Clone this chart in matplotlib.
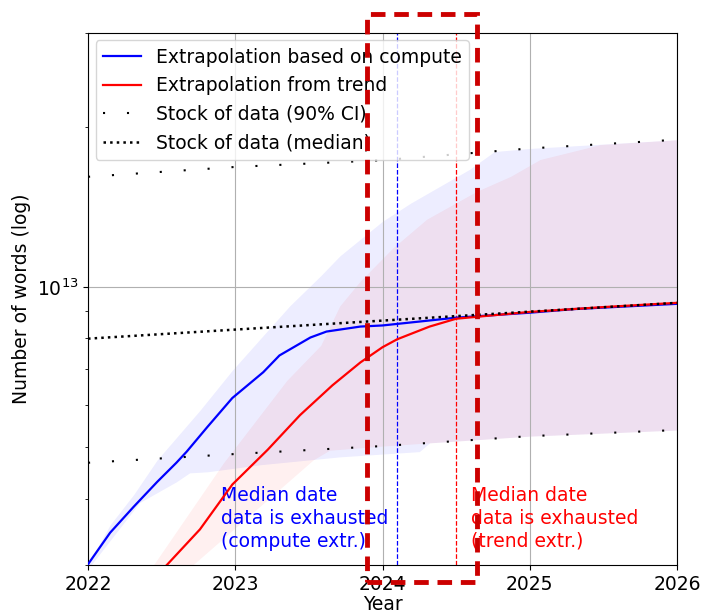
import matplotlib.pyplot as plt
import matplotlib.ticker as mticker
from matplotlib.patches import Rectangle
import numpy as np

# values in units of 1e12 words
years_stock = [2022.0, 2023.0, 2024.0, 2025.0, 2026.0]
stock_median = [7.99, 8.31, 8.64, 8.98, 9.33]
stock_hi = [16.1, 16.8, 17.3, 18.2, 18.9]
stock_lo = [4.67, 4.85, 5.02, 5.24, 5.38]

years_compute = [2022.00, 2022.15, 2022.31, 2022.47, 2022.60, 2022.67, 2022.81,
                 2022.98, 2023.19, 2023.30, 2023.51, 2023.62, 2023.85, 2024.00,
                 2024.50, 2025.00, 2025.30, 2026.00]
compute_median = [3.01, 3.45, 3.86, 4.30, 4.67, 4.90, 5.45,
                  6.18, 6.91, 7.43, 8.03, 8.24, 8.42, 8.46,
                  8.75, 8.94, 9.08, 9.29]

years_compute_hi = [2022.00, 2022.15, 2022.31, 2022.47, 2022.76, 2022.98, 2023.19,
                    2023.37, 2023.58, 2023.71, 2023.85, 2024.00, 2024.19, 2024.39,
                    2024.59, 2024.76, 2025.00, 2025.50, 2026.00]
compute_hi = [3.01, 3.57, 4.07, 4.73, 5.86, 6.97, 8.10,
              9.21, 10.49, 11.43, 12.29, 13.28, 14.36, 15.45,
              16.62, 17.96, 18.2, 18.55, 18.9]
years_compute_lo = [2022.00, 2022.35, 2022.60, 2022.69, 2022.81, 2023.17, 2023.71,
                    2024.25, 2024.32, 2025.00, 2026.00]
compute_lo = [2.95, 3.93, 4.30, 4.47, 4.49, 4.63, 4.79,
              4.90, 5.09, 5.24, 5.38]

years_trend = [2022.40, 2022.54, 2022.76, 2022.98, 2023.22, 2023.44, 2023.66,
               2023.85, 2024.00, 2024.10, 2024.32, 2024.50, 2024.73, 2025.00,
               2025.50, 2026.00]
trend_median = [2.74, 3.01, 3.50, 4.25, 4.94, 5.74, 6.53,
                7.21, 7.70, 7.97, 8.42, 8.71, 8.83, 8.97,
                9.16, 9.33]

years_trend_hi = [2022.35, 2022.92, 2023.35, 2023.58, 2023.71, 2023.85, 2024.07,
                  2024.30, 2024.64, 2024.87, 2025.07, 2025.29, 2025.48, 2026.00]
trend_hi = [2.75, 4.67, 6.67, 7.76, 9.21, 10.26, 11.83,
            13.40, 15.12, 16.13, 17.35, 17.96, 18.51, 18.9]
years_trend_lo = [2022.35, 2022.65, 2023.53, 2023.64, 2024.00, 2025.00, 2026.00]
trend_lo = [2.75, 2.90, 4.73, 4.93, 5.02, 5.24, 5.38]

date_compute = 2024.10
date_trend = 2024.50

scale = 1e12
grid_x = np.linspace(2022, 2026, 401)
fs = 13.5


def on_grid(xs, ys):
    return np.interp(grid_x, xs, np.log10(ys)) + 12


fig = plt.figure(figsize=(7.02, 6.14), dpi=100)
ax = fig.add_axes([0.1254, 0.0798, 0.8390, 0.8665])

# confidence bands
ax.fill_between(grid_x, 10 ** on_grid(years_compute_lo, compute_lo),
                10 ** on_grid(years_compute_hi, compute_hi),
                color='blue', alpha=0.07, lw=0, zorder=1)
ax.fill_between(grid_x, 10 ** on_grid(years_trend_lo, trend_lo),
                10 ** on_grid(years_trend_hi, trend_hi),
                color='red', alpha=0.06, lw=0, zorder=1)

ax.plot(np.array(years_compute), np.array(compute_median) * scale,
        color='blue', lw=1.6, label='Extrapolation based on compute', zorder=3)
ax.plot(np.array(years_trend), np.array(trend_median) * scale,
        color='red', lw=1.6, label='Extrapolation from trend', zorder=4)

ci_style = (0, (1, 10.5))
ax.plot(years_stock, np.array(stock_hi) * scale, color='black', lw=1.5,
        linestyle=ci_style, label='Stock of data (90% CI)', zorder=5)
ax.plot(years_stock, np.array(stock_lo) * scale, color='black', lw=1.5,
        linestyle=ci_style, zorder=5)
ax.plot(years_stock, np.array(stock_median) * scale, color='black', lw=1.8,
        linestyle=':', label='Stock of data (median)', zorder=6)

ax.axvline(date_compute, color='blue', lw=0.9, linestyle='--', zorder=2)
ax.axvline(date_trend, color='red', lw=0.9, linestyle='--', zorder=2)

ax.text(2022.90, 4.22e12, 'Median date\ndata is exhausted\n(compute extr.)',
        color='blue', fontsize=fs, va='top', ha='left', linespacing=1.25)
ax.text(2024.60, 4.22e12, 'Median date\ndata is exhausted\n(trend extr.)',
        color='red', fontsize=fs, va='top', ha='left', linespacing=1.25)

ax.set_yscale('log')
ax.set_xlim(2022, 2026)
ax.set_ylim(3e12, 3e13)
ax.set_xticks([2022, 2023, 2024, 2025, 2026])
ax.xaxis.set_major_formatter(mticker.FormatStrFormatter('%d'))
ax.yaxis.set_minor_formatter(mticker.NullFormatter())
ax.tick_params(labelsize=fs)
ax.grid(True, which='major')
ax.set_xlabel('Year', fontsize=fs, labelpad=1)
ax.set_ylabel('Number of words (log)', fontsize=fs)

ax.legend(loc='upper left', fontsize=fs, borderaxespad=0.4)

# highlight box around the two exhaustion dates
box = Rectangle((0.5228, 0.0521), 0.6795 - 0.5228, 0.9772 - 0.0521,
                transform=fig.transFigure, fill=False, edgecolor='#cc0000',
                lw=3.5, linestyle=(0, (3, 1.8)), zorder=10)
fig.patches.append(box)

fig.savefig('out.png', dpi=100)
